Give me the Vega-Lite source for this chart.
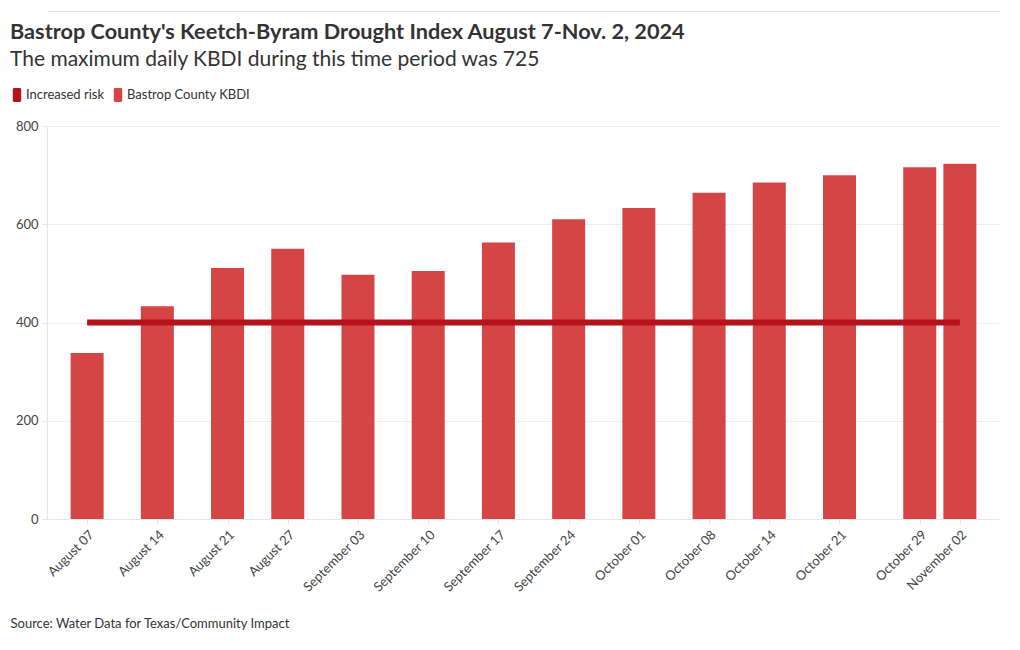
{
  "$schema": "https://vega.github.io/schema/vega-lite/v6.json",
  "autosize": {"type": "none"},
  "width": 953,
  "height": 393,
  "padding": {"left": 47, "top": 126, "right": 20, "bottom": 131},
  "background": "#ffffff",
  "title": {
    "text": "Bastrop County's Keetch-Byram Drought Index August 7-Nov. 2, 2024",
    "subtitle": "The maximum daily KBDI during this time period was 725",
    "anchor": "start",
    "frame": "group",
    "dx": -37,
    "offset": -59,
    "font": "Lato",
    "fontSize": 21.7,
    "fontWeight": "bold",
    "color": "#333333",
    "subtitleFont": "Lato",
    "subtitleFontSize": 21,
    "subtitleColor": "#333333",
    "subtitlePadding": 5
  },
  "datasets": {
    "kbdi": [
      {"date": "2024-08-07", "kbdi": 338, "series": "Bastrop County KBDI"},
      {"date": "2024-08-14", "kbdi": 433, "series": "Bastrop County KBDI"},
      {"date": "2024-08-21", "kbdi": 511, "series": "Bastrop County KBDI"},
      {"date": "2024-08-27", "kbdi": 550, "series": "Bastrop County KBDI"},
      {"date": "2024-09-03", "kbdi": 497, "series": "Bastrop County KBDI"},
      {"date": "2024-09-10", "kbdi": 505, "series": "Bastrop County KBDI"},
      {"date": "2024-09-17", "kbdi": 563, "series": "Bastrop County KBDI"},
      {"date": "2024-09-24", "kbdi": 610, "series": "Bastrop County KBDI"},
      {"date": "2024-10-01", "kbdi": 633, "series": "Bastrop County KBDI"},
      {"date": "2024-10-08", "kbdi": 664, "series": "Bastrop County KBDI"},
      {"date": "2024-10-14", "kbdi": 685, "series": "Bastrop County KBDI"},
      {"date": "2024-10-21", "kbdi": 700, "series": "Bastrop County KBDI"},
      {"date": "2024-10-29", "kbdi": 716, "series": "Bastrop County KBDI"},
      {"date": "2024-11-02", "kbdi": 723, "series": "Bastrop County KBDI"}
    ],
    "risk": [
      {"date": "2024-08-07", "kbdi": 400, "series": "Increased risk"},
      {"date": "2024-11-02", "kbdi": 400, "series": "Increased risk"}
    ]
  },
  "config": {
    "font": "Lato",
    "view": {"stroke": null},
    "axis": {
      "labelFont": "Lato",
      "labelFontSize": 12.5,
      "labelColor": "#444444",
      "domainColor": "#e6e6e6",
      "tickColor": "#e6e6e6",
      "gridColor": "#eeeeee",
      "titleFont": "Lato"
    }
  },
  "resolve": {"axis": {"x": "independent"}},
  "layer": [
    {
      "data": {"name": "kbdi"},
      "mark": {"type": "bar", "width": 33},
      "encoding": {
        "x": {
          "field": "date",
          "type": "temporal",
          "scale": {
            "type": "utc",
            "padding": 0,
            "domain": [
              {"year": 2024, "month": 8, "date": 3, "utc": true},
              {"year": 2024, "month": 11, "date": 6, "utc": true}
            ]
          },
          "axis": {
            "orient": "bottom",
            "values": [
              {"year": 2024, "month": 8, "date": 7, "utc": true},
              {"year": 2024, "month": 8, "date": 14, "utc": true},
              {"year": 2024, "month": 8, "date": 21, "utc": true},
              {"year": 2024, "month": 8, "date": 27, "utc": true},
              {"year": 2024, "month": 9, "date": 3, "utc": true},
              {"year": 2024, "month": 9, "date": 10, "utc": true},
              {"year": 2024, "month": 9, "date": 17, "utc": true},
              {"year": 2024, "month": 9, "date": 24, "utc": true},
              {"year": 2024, "month": 10, "date": 1, "utc": true},
              {"year": 2024, "month": 10, "date": 8, "utc": true},
              {"year": 2024, "month": 10, "date": 14, "utc": true},
              {"year": 2024, "month": 10, "date": 21, "utc": true},
              {"year": 2024, "month": 10, "date": 29, "utc": true},
              {"year": 2024, "month": 11, "date": 2, "utc": true}
            ],
            "labelExpr": "utcFormat(datum.value, '%B %d')",
            "labelAngle": -45,
            "labelAlign": "right",
            "labelBaseline": "top",
            "labelPadding": 4,
            "labelOverlap": false,
            "labelFlush": false,
            "labelFontSize": 13,
            "tickSize": 5,
            "grid": false,
            "title": "Source: Water Data for Texas/Community Impact",
            "titleAnchor": "start",
            "titleAlign": "left",
            "titleX": -37,
            "titleY": 98,
            "titleFontSize": 13,
            "titleFontWeight": "normal",
            "titleColor": "#333333"
          }
        },
        "y": {
          "field": "kbdi",
          "type": "quantitative",
          "scale": {"domain": [0, 800], "nice": false},
          "axis": {
            "values": [0, 200, 400, 600, 800],
            "title": null,
            "tickSize": 5,
            "labelPadding": 4,
            "labelFontSize": 13,
            "grid": true
          }
        },
        "color": {
          "field": "series",
          "type": "nominal",
          "scale": {
            "domain": ["Increased risk", "Bastrop County KBDI"],
            "range": ["#b5121b", "#d64545"]
          },
          "legend": {
            "title": null,
            "orient": "none",
            "direction": "horizontal",
            "legendX": -37,
            "legendY": -38,
            "symbolType": "M-0.6,-0.8Q-0.6,-1,-0.4,-1H0.4Q0.6,-1,0.6,-0.8V0.8Q0.6,1,0.4,1H-0.4Q-0.6,1,-0.6,0.8Z",
            "symbolSize": 196,
            "symbolStrokeWidth": 0,
            "symbolOpacity": 1,
            "labelFont": "Lato",
            "labelFontSize": 13,
            "labelColor": "#333333",
            "labelOffset": 2,
            "columnPadding": 7
          }
        }
      }
    },
    {
      "data": {"name": "risk"},
      "mark": {"type": "line", "strokeWidth": 6, "strokeCap": "butt"},
      "encoding": {
        "x": {
          "field": "date",
          "type": "temporal",
          "axis": {
            "orient": "top",
            "offset": 115,
            "labels": false,
            "ticks": false,
            "grid": false,
            "title": null,
            "domainColor": "#dddddd"
          }
        },
        "y": {"field": "kbdi", "type": "quantitative"},
        "color": {"field": "series", "type": "nominal"}
      }
    }
  ]
}
